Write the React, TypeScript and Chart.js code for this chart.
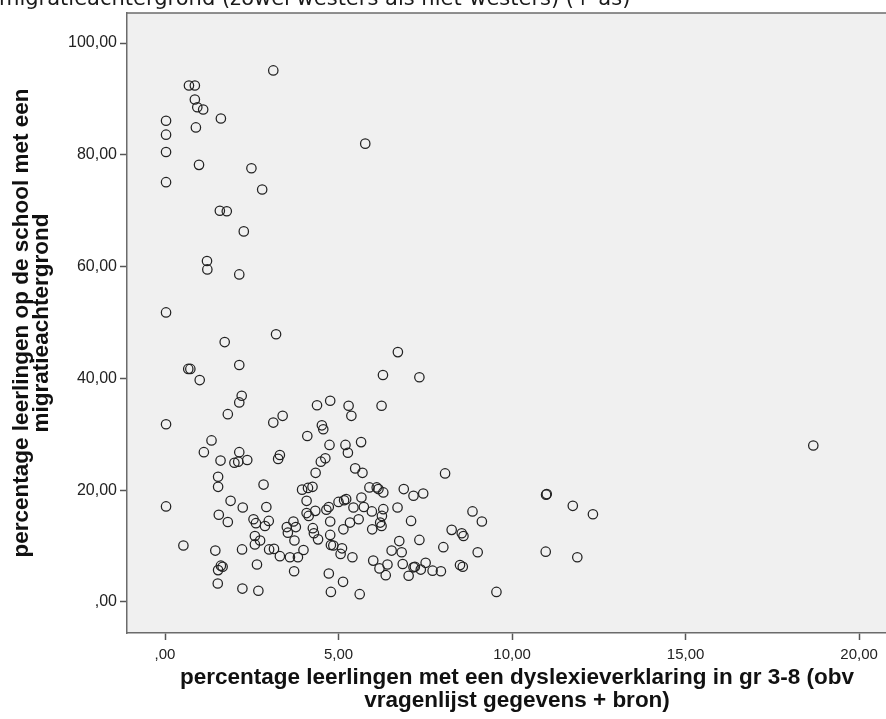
import { useEffect, useRef } from "react";
import { Chart, registerables } from "chart.js";

Chart.register(...registerables);

// percentage leerlingen met een dyslexieverklaring (gr 3-8), one entry per school
const dyslexiePct = [
  3.12, 0.69, 0.86, 0.86, 0.93, 1.10, 1.61, 0.03, 0.03, 0.89,
  5.77, 0.03, 0.98, 2.49, 0.03, 2.80, 1.58, 1.78, 2.27, 1.21,
  1.22, 2.14, 0.03, 3.20, 1.72, 6.71, 2.14, 0.67, 0.73, 1.00,
  6.28, 7.33, 6.24, 2.21, 2.14, 1.81, 0.03, 3.12, 3.39, 4.38,
  4.76, 5.29, 5.37, 4.10, 4.52, 4.56, 4.74, 5.20, 5.27, 5.65,
  1.34, 1.12, 1.60, 2.14, 2.00, 2.11, 2.37, 3.26, 3.31, 4.49,
  4.62, 4.34, 5.48, 5.69, 1.53, 1.53, 2.84, 0.03, 1.89, 2.24,
  1.55, 1.81, 2.92, 2.55, 2.62, 2.99, 2.88, 3.95, 4.12, 4.25,
  4.08, 0.53, 1.45, 1.61, 1.66, 1.53, 1.52, 2.22, 2.65, 2.23,
  2.69, 2.59, 2.59, 2.74, 3.00, 3.14, 3.31, 3.51, 3.54, 3.70,
  3.77, 3.73, 3.60, 3.83, 3.99, 3.72, 4.08, 4.14, 4.33, 4.26,
  4.29, 4.41, 4.65, 4.72, 4.76, 4.76, 4.78, 4.85, 5.10, 5.06,
  5.40, 5.00, 5.16, 5.22, 5.43, 5.33, 5.14, 4.72, 5.13, 4.78,
  5.61, 5.66, 5.73, 5.89, 6.10, 6.15, 6.29, 5.96, 6.29, 6.25,
  6.20, 6.24, 5.58, 5.97, 6.88, 7.16, 7.44, 6.70, 7.09, 6.75,
  6.53, 6.82, 6.85, 7.16, 7.20, 7.02, 7.33, 6.00, 6.18, 6.36,
  6.41, 8.07, 8.86, 9.13, 8.26, 8.55, 8.60, 8.02, 9.01, 7.37,
  7.51, 7.71, 7.95, 8.50, 8.58, 9.55, 10.98, 11.00, 11.75, 12.33,
  10.97, 11.88, 18.68,
];

// percentage leerlingen op de school met een migratieachtergrond, same order
const migratiePct = [
  95.1, 92.4, 92.4, 89.9, 88.5, 88.1, 86.5, 86.1, 83.6, 84.9,
  82.0, 80.5, 78.2, 77.6, 75.1, 73.8, 70.0, 69.9, 66.3, 61.0,
  59.5, 58.6, 51.8, 47.9, 46.5, 44.7, 42.4, 41.7, 41.7, 39.7,
  40.6, 40.2, 35.1, 36.9, 35.7, 33.6, 31.8, 32.1, 33.3, 35.2,
  36.0, 35.1, 33.3, 29.7, 31.6, 30.9, 28.1, 28.1, 26.7, 28.6,
  28.9, 26.8, 25.3, 26.8, 24.9, 25.1, 25.4, 25.6, 26.3, 25.1,
  25.7, 23.1, 23.9, 23.1, 22.4, 20.6, 21.0, 17.1, 18.1, 16.9,
  15.6, 14.3, 17.0, 14.8, 14.1, 14.5, 13.6, 20.1, 20.4, 20.6,
  18.1, 10.1, 9.2, 6.5, 6.3, 5.7, 3.3, 9.4, 6.7, 2.4,
  2.0, 11.8, 10.3, 11.0, 9.4, 9.5, 8.2, 13.4, 12.4, 14.4,
  13.4, 11.0, 8.0, 8.0, 9.3, 5.5, 15.9, 15.4, 16.3, 13.2,
  12.3, 11.2, 16.5, 17.0, 14.4, 12.0, 10.2, 10.1, 9.6, 8.6,
  8.0, 17.9, 18.2, 18.4, 16.9, 14.2, 13.0, 5.1, 3.6, 1.8,
  1.4, 18.7, 17.0, 20.5, 20.5, 20.2, 19.6, 16.2, 16.6, 15.4,
  14.2, 13.6, 14.8, 13.0, 20.2, 19.0, 19.4, 16.9, 14.5, 10.9,
  9.2, 8.9, 6.8, 6.2, 6.3, 4.7, 11.1, 7.4, 6.0, 4.8,
  6.7, 23.0, 16.2, 14.4, 12.9, 12.3, 11.8, 9.8, 8.9, 5.8,
  7.0, 5.6, 5.5, 6.6, 6.3, 1.8, 19.2, 19.3, 17.2, 15.7,
  9.0, 8.0, 28.0,
];

const xTickValues = [0, 5, 10, 15, 20];
const xTickLabels = [",00", "5,00", "10,00", "15,00", "20,00"];
const yTickValues = [0, 20, 40, 60, 80, 100];
const yTickLabels = [",00", "20,00", "40,00", "60,00", "80,00", "100,00"];

const xTitle = [
  "percentage leerlingen met een dyslexieverklaring in gr 3-8 (obv",
  "vragenlijst gegevens + bron)",
];
const yTitle = [
  "percentage leerlingen op de school met een",
  "migratieachtergrond",
];
const headerText = "migratieachtergrond (zowel westers als niet-westers) (+ as)";

const CANVAS_W = 930;
const CANVAS_H = 719;

const plotBackground = {
  id: "plotBackground",
  beforeDraw(chart: any) {
    const { ctx, chartArea } = chart;
    ctx.save();
    ctx.fillStyle = "#f0f0f0";
    ctx.fillRect(chartArea.left, chartArea.top, chartArea.right - chartArea.left, chartArea.bottom - chartArea.top);
    ctx.restore();
  },
};

const plotFrameAndHeader = {
  id: "plotFrameAndHeader",
  afterDraw(chart: any) {
    const { ctx, chartArea } = chart;
    ctx.save();
    ctx.strokeStyle = "#6b6b6b";
    ctx.lineWidth = 1.5;
    ctx.beginPath();
    ctx.moveTo(chartArea.left, chartArea.top);
    ctx.lineTo(chartArea.right, chartArea.top);
    ctx.stroke();
    ctx.fillStyle = "#1a1a1a";
    ctx.font = '21px "DejaVu Sans"';
    ctx.textBaseline = "alphabetic";
    ctx.textAlign = "left";
    ctx.fillText(headerText, -1, 5);
    ctx.restore();
  },
};

const titleFont = '"Liberation Sans", Arial, sans-serif';

export default function App() {
  const canvasRef = useRef<HTMLCanvasElement | null>(null);

  useEffect(() => {
    const canvas = canvasRef.current;
    if (!canvas) return;
    const points = dyslexiePct.map((x, i) => ({ x, y: migratiePct[i] }));

    const chart = new Chart(canvas, {
      type: "scatter",
      data: {
        datasets: [
          {
            data: points,
            pointRadius: 4.7,
            pointHoverRadius: 4.7,
            pointBorderWidth: 1.25,
            pointBorderColor: "#222222",
            pointBackgroundColor: "rgba(0,0,0,0)",
          },
        ],
      },
      options: {
        animation: false,
        responsive: false,
        devicePixelRatio: 1,
        events: [],
        layout: { padding: { left: 0, top: 13, right: 23, bottom: 0 } },
        plugins: {
          legend: { display: false },
          tooltip: { enabled: false },
        },
        scales: {
          x: {
            type: "linear",
            min: -1.095,
            max: 21.38,
            afterFit(scale: any) {
              scale.height = 86;
            },
            afterBuildTicks(scale: any) {
              scale.ticks = xTickValues.map((v) => ({ value: v }));
            },
            grid: {
              drawOnChartArea: false,
              drawTicks: true,
              tickLength: 7,
              tickColor: "#555555",
              tickWidth: 1.5,
            },
            border: { display: true, color: "#6b6b6b", width: 1.5 },
            ticks: {
              padding: 6,
              color: "#222222",
              font: { family: titleFont, size: 15 },
              maxRotation: 0,
              autoSkip: false,
              callback: (_v: any, i: number) => xTickLabels[i],
            },
            title: {
              display: true,
              text: xTitle,
              color: "#111111",
              font: { family: titleFont, size: 22.5, weight: "bold", lineHeight: 1.02 },
              padding: { top: 0, bottom: 7 },
            },
          },
          y: {
            type: "linear",
            min: -5.55,
            max: 105.37,
            afterFit(scale: any) {
              scale.width = 127;
            },
            afterBuildTicks(scale: any) {
              scale.ticks = yTickValues.map((v) => ({ value: v }));
            },
            grid: {
              drawOnChartArea: false,
              drawTicks: true,
              tickLength: 7,
              tickColor: "#555555",
              tickWidth: 1.5,
            },
            border: { display: true, color: "#6b6b6b", width: 1.5 },
            ticks: {
              padding: 3,
              color: "#222222",
              font: { family: titleFont, size: 16 },
              autoSkip: false,
              callback: (_v: any, i: number) => yTickLabels[i],
            },
            title: {
              display: true,
              text: yTitle,
              color: "#111111",
              font: { family: titleFont, size: 22.5, weight: "bold", lineHeight: 0.89 },
              padding: { top: 12, bottom: 0 },
            },
          },
        },
      },
      plugins: [plotBackground, plotFrameAndHeader],
    });

    return () => chart.destroy();
  }, []);

  return (
    <div
      style={{
        position: "fixed",
        left: 0,
        top: 0,
        width: 886,
        height: 719,
        overflow: "hidden",
        background: "#ffffff",
      }}
    >
      <canvas ref={canvasRef} width={CANVAS_W} height={CANVAS_H} style={{ display: "block" }} />
    </div>
  );
}
